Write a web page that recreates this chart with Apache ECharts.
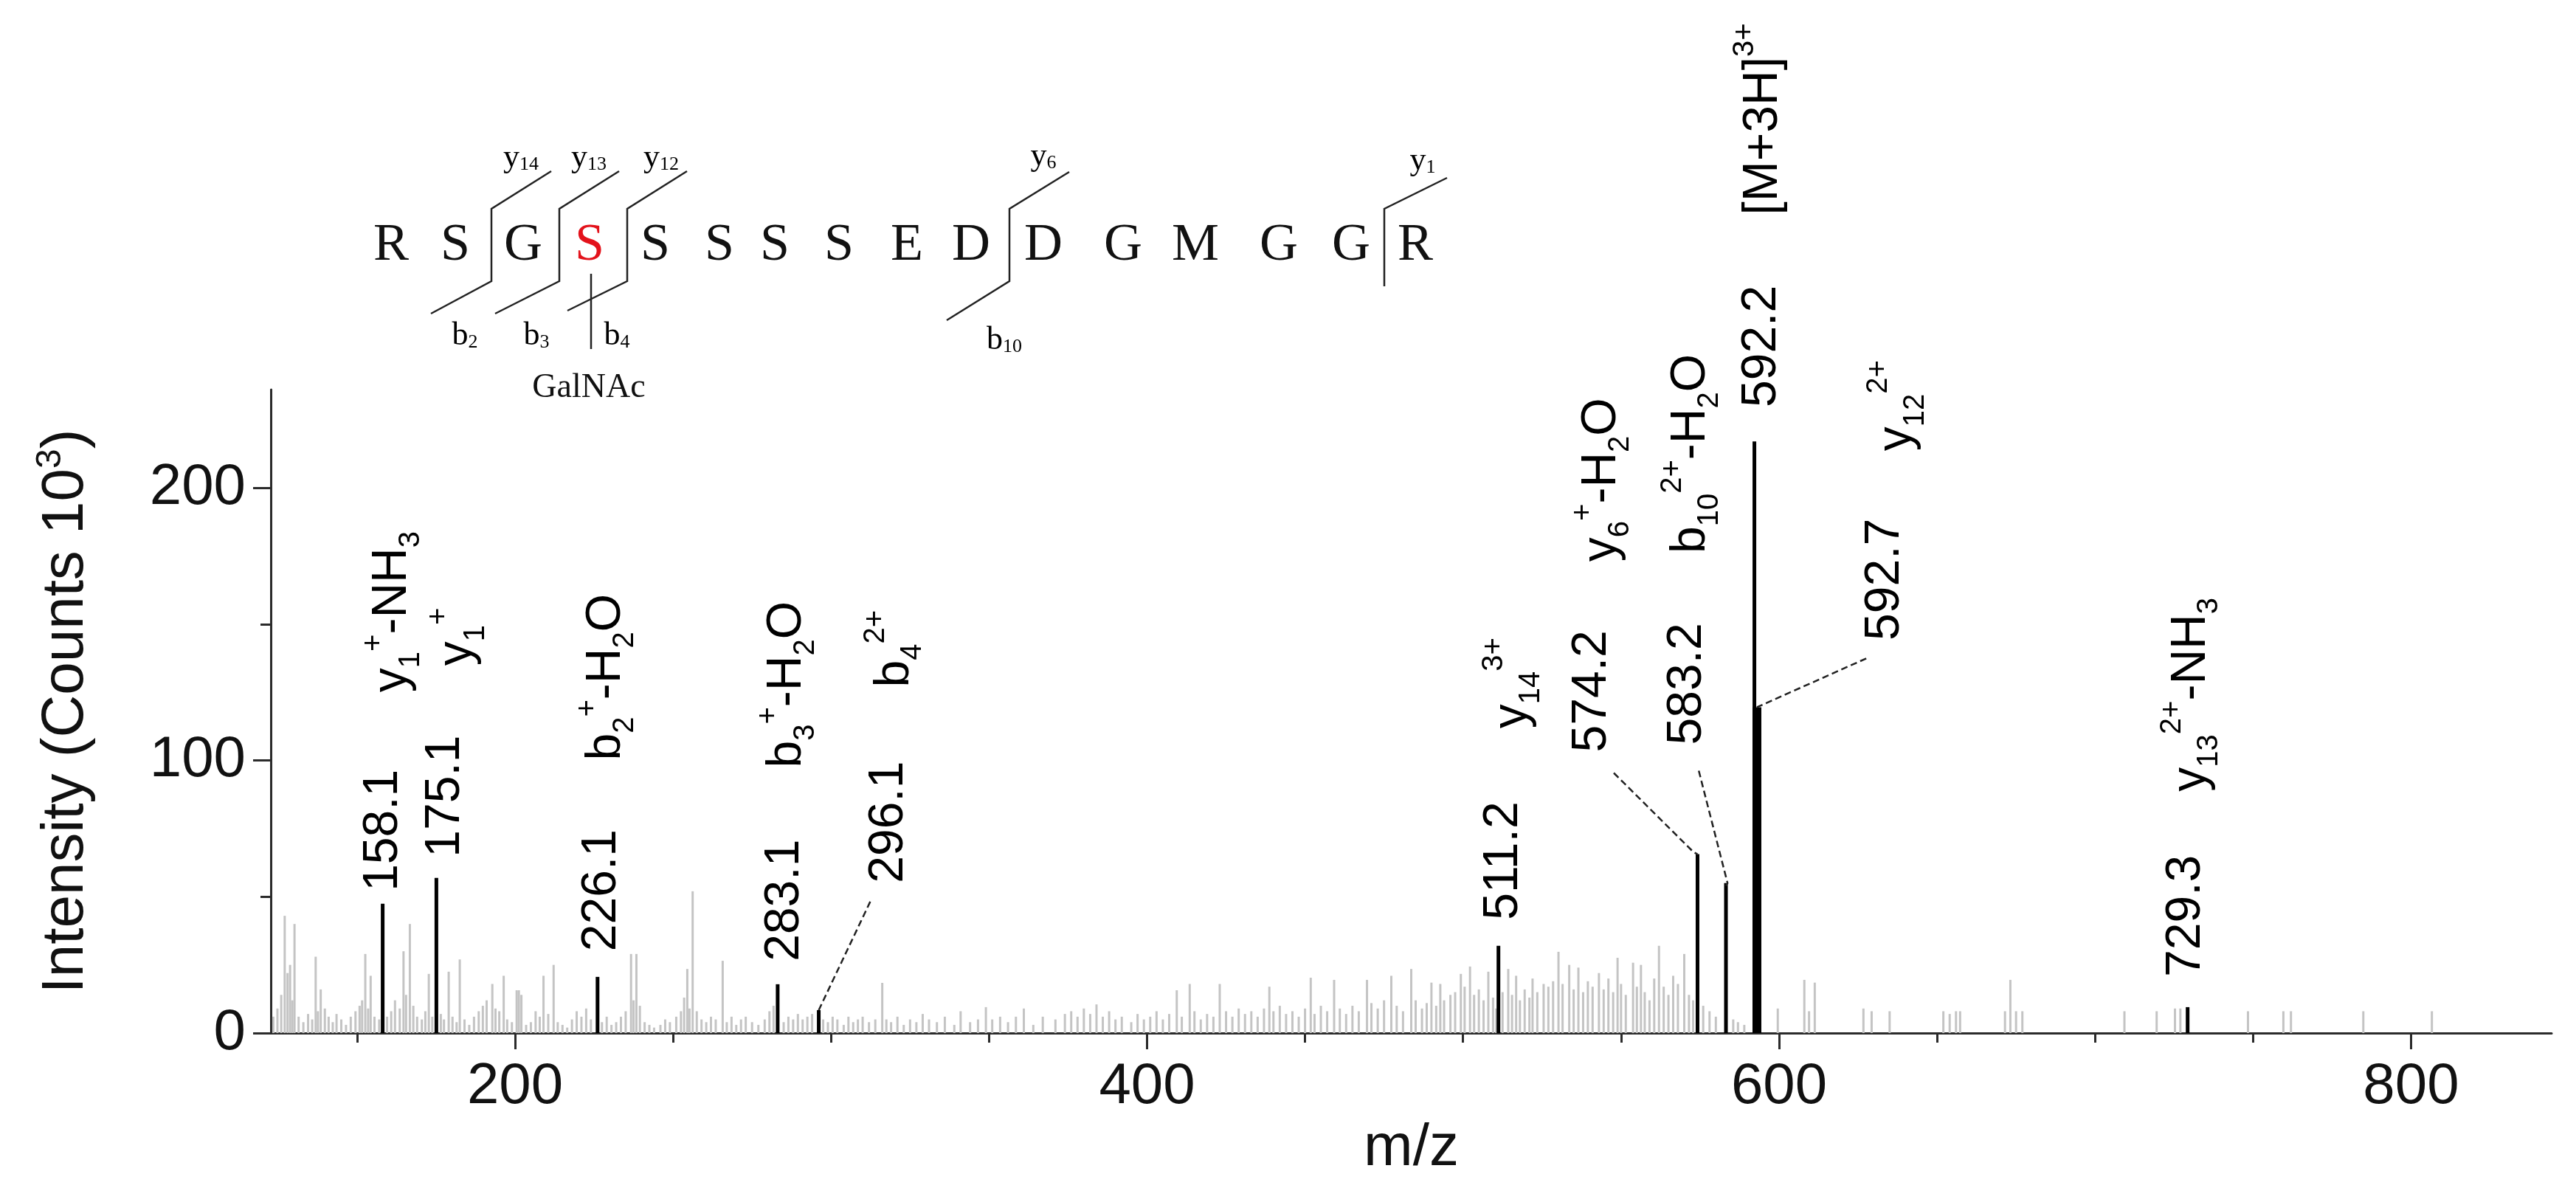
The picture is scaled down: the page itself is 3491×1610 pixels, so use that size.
<!DOCTYPE html>
<html>
<head>
<meta charset="utf-8">
<script src="https://cdn.jsdelivr.net/npm/echarts@6/dist/echarts.min.js"></script>
<style>
html, body { margin: 0; padding: 0; background: #fff; }
#chart { width: 3491px; height: 1610px; }
</style>
</head>
<body>
<div id="chart"></div>
<script>
// background (unassigned) peaks: m/z and intensity (x10^3)
const noiseMz = [123.5,124.8,126,127.1,128,128.8,129.5,130.2,131.5,133,134.5,135.8,136.9,137.6,138.5,139.8,141,142.3,143.5,145,146.5,148,149.5,150.8,151.6,152.6,153.5,154.3,155.5,157,
  159.5,160.8,162,163.5,164.7,165.5,166.7,167.8,169,170.5,171.6,172.7,173.8,176.5,177.5,179,180.2,181.5,182.5,184,185.5,187,188.5,189.8,191,192.8,193.8,195,196.4,197.5,199,200.5,201.2,202,203.5,205,206.5,207.8,209,210.5,212.2,213.5,215,216.5,218,219.5,221,222.5,224,
  227.5,229,230.5,232,233.5,235,236.7,237.5,238.4,239.5,241,242.5,244,246,247.5,249,251,252.5,253.5,254.5,255.2,256.2,257.5,259,260.5,262,263.5,265.7,267,268.5,270,271.5,273,275,277,279,280.5,281.8,
  285,286.5,288,289.5,291,292.5,294,297.5,299,300.5,302,304,305.5,307,308.5,310,312,314,316.2,317.5,319,321,323,325,327,329,
  331,333.5,336,339,341,344,346.5,349,351,353.5,356,358.5,361,364,367,371,374,376,378,380,382,384,386,388,390,392,395,397,399,
  401,403,405,407,409.4,411,413.5,415,417,419,421,423,425,427,429,431,433,435,437,438.7,440,442,444,446,448,450,451.8,453,455,457,459.2,461,463,465,467,469.6,471,473,475,477.3,479,481,483.6,485,487,488.5,490,491.5,492.8,494,496,497.5,499.3,500.5,502.2,503.5,505,506.5,508,509.5,510.5,
  512.5,514.3,515.5,516.8,518,519.5,521,522,523.5,525.5,527,528.5,530.2,531.5,533.6,535,536.5,538,539.5,541,543,544.5,546,547.5,548.9,550,551.5,553.8,555,556.3,557.5,559,560.5,562,563.5,565,566.5,568,570,571.5,572.8,
  576,578,580,585.5,587,589,599.6,608,609.5,611.3,626.7,629.3,635,652,654,656,657.3,671.5,673.2,675,677,709.3,719.5,725.3,727,748.4,759.6,762,784.9,806.6];
const noiseInt = [6,9,14,43,22,25,12,40,6,4,7,5,28,8,16,9,6,4,7,5,3,6,8,10,12,29,9,21,6,5,
  6,8,12,9,30,14,40,10,6,5,8,21.7,6,7,5,22.5,6,4,27,5,3,6,8,10,12,18,9,8,21,5,4,15.7,15.7,14,3,4,8,6,21,7,25,4,3,2,5,8,6,9,5,
  4,6,3,4,6,8,29,12,29,10,4,3,2,3,5,4,6,8,13,23.5,9,52,8,5,4,6,5,26.5,4,6,3,5,6,4,3,5,8,10,
  4,6,5,7,5,6,7,5,4,6,5,3,6,4,5,6,4,5,18.4,5,4,6,3,5,4,7,
  5,4,6,3,8,4,5,9.5,5,6,4,6,9,3,6,5,7,8,6,9,7,10.5,6,8,5,6,4,7,5,
  6,8,5,7,15.7,6,18,8,5,7,6,18,8,6,9,7,8,6,9,17,8,10,7,8,6,9,20.3,7,10,8,19.5,9,7,10,8,19.5,11,9,12,21,10,8,23.5,12,9,11,18.5,10,18,12,14,15,21.7,17,24.4,14,16,12,22.5,13,9,
  15,23.5,14,21,12,16,13,20,15,18,17,19,29.8,18,25,16,24,15,19,17,22,16,20,15,27.6,18,14,25.8,17,25,15,12,20,32,17,14,21,18,29,14,12,
  10,8,6,5,4,3,9,19.5,8,18.5,9,8,8,8,7,8,8,8,19.5,8,8,8,8,9,9,8,8,8,8,8];

// assigned peaks (black)
const peakMz  = [158.1, 175.1, 226.1, 283.1, 296.1, 511.2, 574.2, 583.2, 592.2, 593.0, 729.3];
const peakInt = [47.4, 56.9, 20.6, 17.9, 8.4, 32, 65.6, 55, 217, 119.5, 9.5];
const peakW   = [5, 5, 5, 5, 5, 5, 5, 5, 5, 12, 5];

const xTicks = [150, 200, 250, 300, 350, 400, 450, 500, 550, 600, 650, 700, 750, 800];
const xLabels = [200, 400, 600, 800];
const yTicks = [0, 50, 100, 150, 200];
const yLabels = [0, 100, 200];

// rotated peak labels: [text (rich), m/z of anchor, intensity of anchor]
const peakLabels = [
  ['158.1', 158.4, 52], ['{b|y}{sb|1}{sp|+}{b|-NH}{sb|3}', 161.2, 125],
  ['175.1', 178.1, 64.5], ['{b|y}{sb|1}{sp|+}', 181.8, 134.7],
  ['226.1', 227.4, 30], ['{b|b}{sb|2}{sp|+}{b|-H}{sb|2}{b|O}', 229.0, 100],
  ['283.1', 285.3, 26.3], ['{b|b}{sb|3}{sp|+}{b|-H}{sb|2}{b|O}', 286.2, 97.3],
  ['296.1', 318.3, 55], ['{b|b}{sb|4}{sp|2+}', 320.1, 126.8],
  ['511.2', 512.9, 41.5], ['{b|y}{sb|14}{sp|3+}', 515.7, 111.7],
  ['574.2', 540.9, 103], ['{b|y}{sb|6}{sp|+}{b|-H}{sb|2}{b|O}', 544.0, 172.9],
  ['583.2', 571.1, 105.7], ['{b|b}{sb|10}{sp|2+}{b|-H}{sb|2}{b|O}', 572.2, 175.9],
  ['592.2', 594.7, 229.5], ['{b|[M+3H]}{sp|3+}', 595.1, 300],
  ['592.7', 633.7, 144], ['{b|y}{sb|12}{sp|2+}', 637.4, 213.5],
  ['729.3', 728.8, 20.6], ['{b|y}{sb|13}{sp|2+}{b|-NH}{sb|3}', 730.4, 88.6]
];
// dashed leaders in data units
const leaders = [
  [[312.4, 48.2], [296.1, 8.4]],
  [[547.7, 95.4], [572.9, 66.4], [574.2, 65.6]],
  [[574.6, 96.2], [583.7, 55], [583.2, 54]],
  [[627.6, 137.4], [593.0, 119.5]]
];

// peptide sequence
const residues = ['R','S','G','S','S','S','S','S','E','D','D','G','M','G','G','R'];
const residueX = [530, 617, 709, 799, 888, 975, 1050, 1137, 1229, 1316, 1414, 1522, 1620, 1733, 1831, 1918];
const modifiedIndex = 3;

const chart = echarts.init(document.getElementById('chart'), null, { renderer: 'canvas' });
const XMIN = 122.7, XMAX = 844.5, YMIN = 0, YMAX = 236;
const AXIS = '#2b2b2b';
const font = 'Liberation Sans, Arial, sans-serif';

function stickRender(color) {
  return function (params, api) {
    const p0 = api.coord([api.value(0), 0]);
    const p1 = api.coord([api.value(0), api.value(1)]);
    const w = api.value(2) || 3;
    return {
      type: 'line',
      shape: { x1: p0[0], y1: p0[1], x2: p1[0], y2: p1[1] },
      style: { stroke: color, lineWidth: w }
    };
  };
}

const baseX = {
  type: 'value', min: XMIN, max: XMAX, position: 'bottom', splitLine: { show: false }
};
const baseY = {
  type: 'value', min: YMIN, max: YMAX, position: 'left', splitLine: { show: false }
};

chart.setOption({
  animation: false,
  backgroundColor: '#fff',
  grid: { left: 367, right: 33, top: 528, bottom: 210 },
  xAxis: [
    Object.assign({}, baseX, {
      name: 'm/z', nameLocation: 'middle', nameGap: 115,
      nameTextStyle: { fontFamily: font, fontSize: 80, color: '#111', verticalAlign: 'top' },
      axisLine: { onZero: false, lineStyle: { color: AXIS, width: 3 } },
      axisTick: { customValues: xTicks, length: 13, lineStyle: { color: AXIS, width: 3 } },
      axisLabel: { customValues: xLabels, margin: 34, fontFamily: font, fontSize: 78, color: '#111' }
    }),
    Object.assign({}, baseX, {
      axisLine: { show: false },
      axisTick: { customValues: xLabels, length: 22, lineStyle: { color: AXIS, width: 3 } },
      axisLabel: { show: false }
    })
  ],
  yAxis: [
    Object.assign({}, baseY, {
      name: '{n|Intensity (Counts 10}{s|3}{n|)}', nameLocation: 'middle', nameRotate: 90, nameGap: 232,
      nameTextStyle: {
        rich: {
          n: { fontFamily: font, fontSize: 80, color: '#111', lineHeight: 90 },
          s: { fontFamily: font, fontSize: 48, color: '#111', verticalAlign: 'top', lineHeight: 90, padding: [0, 0, 34, 0] }
        }
      },
      axisLine: { show: true, onZero: false, lineStyle: { color: AXIS, width: 3 } },
      axisTick: { show: true, customValues: yTicks, length: 14, lineStyle: { color: AXIS, width: 3 } },
      axisLabel: { customValues: yLabels, margin: 34, fontFamily: font, fontSize: 78, color: '#111' }
    }),
    Object.assign({}, baseY, {
      axisLine: { show: false },
      axisTick: { show: true, customValues: yLabels, length: 24, lineStyle: { color: AXIS, width: 3 } },
      axisLabel: { show: false }
    })
  ],
  series: [
    {
      type: 'custom', xAxisIndex: 0, yAxisIndex: 0, clip: true,
      renderItem: stickRender('#c4c4c4'),
      data: noiseMz.map((m, i) => [m, noiseInt[i], 3]),
      z: 2
    },
    {
      type: 'custom', xAxisIndex: 0, yAxisIndex: 0, clip: true,
      renderItem: stickRender('#000'),
      data: peakMz.map((m, i) => [m, peakInt[i], peakW[i]]),
      z: 3
    }
  ]
});

const px = (p) => chart.convertToPixel({ xAxisIndex: 0, yAxisIndex: 0 }, p);
const graphics = [];

const labelRich = {
  b: { fontFamily: font, fontSize: 66, color: '#111', lineHeight: 90, verticalAlign: 'middle' },
  sb: { fontFamily: font, fontSize: 40, color: '#111', lineHeight: 90, verticalAlign: 'bottom', padding: [18, 0, 0, 0] },
  sp: { fontFamily: font, fontSize: 40, color: '#111', lineHeight: 90, verticalAlign: 'top', padding: [0, 0, 10, 0] }
};
peakLabels.forEach(([txt, m, v]) => {
  const p = px([m, v]);
  const isNum = txt.indexOf('{') < 0;
  graphics.push({
    type: 'text', x: p[0], y: p[1], rotation: Math.PI / 2, z: 10,
    style: {
      text: isNum ? '{b|' + txt + '}' : txt,
      rich: labelRich, align: 'left', verticalAlign: 'middle'
    }
  });
});
leaders.forEach(pts => {
  graphics.push({
    type: 'polyline', z: 9,
    shape: { points: pts.map(px) },
    style: { stroke: '#222', lineWidth: 2.5, lineDash: [9, 5], fill: null }
  });
});

// peptide sequence with fragmentation marks
const serif = 'Liberation Serif, Times New Roman, serif';
residues.forEach((r, i) => {
  graphics.push({
    type: 'text', x: residueX[i], y: 333,
    style: { text: r, fontFamily: serif, fontSize: 72, fill: i === modifiedIndex ? '#e3121b' : '#111', align: 'center', verticalAlign: 'middle' }
  });
});
const fragRich = {
  l: { fontFamily: serif, fontSize: 44, color: '#111' },
  s: { fontFamily: serif, fontSize: 26, color: '#111', verticalAlign: 'bottom', padding: [16, 0, 0, 0] }
};
function cut(x, top, upper, lower, yLab, bLab) {
  const lineStyle = { stroke: '#222', lineWidth: 2.5 };
  graphics.push({ type: 'polyline', shape: { points: [upper, [x, top[0]], [x, top[1]]].concat(lower ? [lower] : []) }, style: Object.assign({ fill: null }, lineStyle) });
  if (yLab) graphics.push({ type: 'text', x: yLab[0], y: yLab[1], style: { text: '{l|y}{s|' + yLab[2] + '}', rich: fragRich, align: 'center', verticalAlign: 'middle' } });
  if (bLab) graphics.push({ type: 'text', x: bLab[0], y: bLab[1], style: { text: '{l|b}{s|' + bLab[2] + '}', rich: fragRich, align: 'center', verticalAlign: 'middle' } });
}
cut(666, [283, 381], [747, 232], [584, 425], [706, 214, '14'], [630, 455, '2']);
cut(758, [283, 381], [839, 232], [671, 425], [798, 214, '13'], [727, 455, '3']);
cut(850, [283, 381], [931, 232], [769, 421], [896, 214, '12'], [836, 455, '4']);
cut(1368, [283, 381], [1449, 233], [1283, 434], [1414, 212, '6'], [1361, 461, '10']);
cut(1876, [283, 388], [1961, 241], null, [1928, 218, '1'], null);
graphics.push({ type: 'line', shape: { x1: 801, y1: 371, x2: 801, y2: 473 }, style: { stroke: '#222', lineWidth: 2.5 } });
graphics.push({ type: 'text', x: 798, y: 526, style: { text: 'GalNAc', fontFamily: serif, fontSize: 46, fill: '#111', align: 'center', verticalAlign: 'middle' } });

chart.setOption({ graphic: { elements: graphics } });
</script>
</body>
</html>
